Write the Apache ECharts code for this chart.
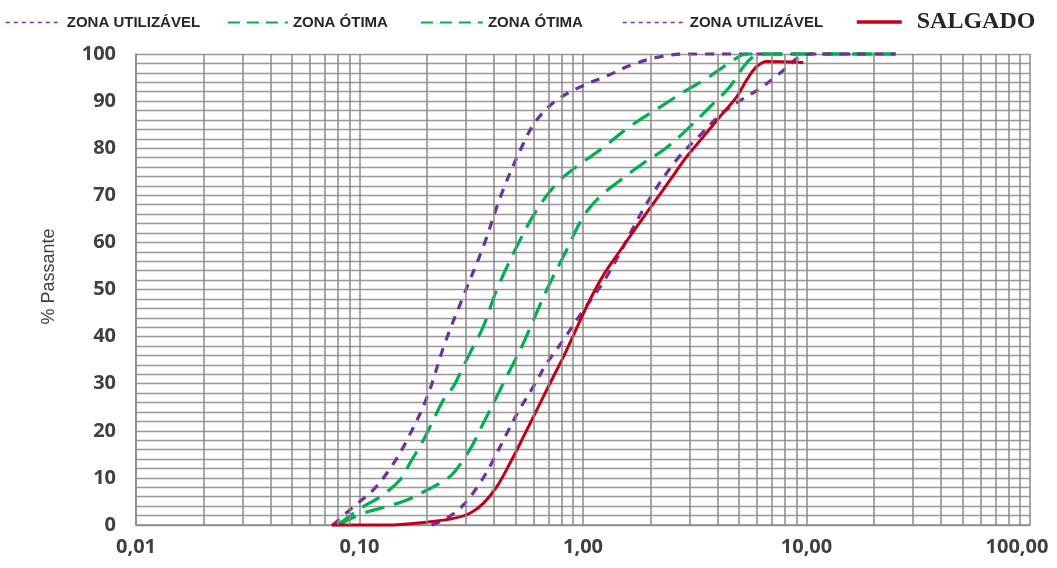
<!DOCTYPE html>
<html>
<head>
<meta charset="utf-8">
<script src="https://cdn.jsdelivr.net/npm/echarts@6/dist/echarts.min.js"></script>
<style>
html,body{margin:0;padding:0;background:#fff;}
#chart{width:1057px;height:568px;}
</style>
</head>
<body>
<div id="chart"></div>
<script>
// ---- data (sieve size in mm, % passing) ----
const utilUpperSizes = [0.076, 0.094, 0.115, 0.139, 0.163, 0.2, 0.241, 0.291, 0.358, 0.433, 0.541, 0.621, 0.763, 0.97, 1.3, 1.65, 2.2, 2.9, 25];
const utilUpperPass  = [0, 3.9, 7.4, 12.4, 18, 27, 38.6, 48.5, 59.1, 70.4, 81, 86, 90.2, 93, 95.5, 97.7, 99.4, 100, 100];

const otimaUpperSizes = [0.08, 0.104, 0.124, 0.152, 0.168, 0.193, 0.214, 0.237, 0.263, 0.291, 0.323, 0.358, 0.411, 0.505, 0.621, 0.763, 0.937, 1.19, 1.62, 2.29, 2.9, 3.57, 4.71, 5.4, 25];
const otimaUpperPass  = [0, 3.9, 6, 9.6, 13.1, 18, 22.3, 26.5, 29.4, 33.6, 37.9, 42.1, 49.9, 59.1, 66.9, 72.5, 76.1, 79.6, 84.6, 89.2, 92.3, 94.8, 98.7, 100, 100];

const otimaLowerSizes = [0.08, 0.104, 0.132, 0.163, 0.2, 0.254, 0.291, 0.323, 0.358, 0.397, 0.44, 0.488, 0.541, 0.6, 0.688, 0.845, 1.003, 1.19, 1.47, 1.86, 2.29, 2.91, 3.7, 4.55, 5.22, 5.78, 6.5, 25];
const otimaLowerPass  = [0, 2.5, 3.9, 5.3, 7.4, 10.3, 13.8, 17.3, 21.6, 25.8, 30.1, 34.3, 38.6, 43.5, 49.9, 58.4, 65.5, 69.7, 73.2, 76.8, 79.6, 83.9, 88.8, 93.1, 97.3, 99.4, 100, 100];

const utilLowerSizes = [0.21, 0.245, 0.291, 0.346, 0.397, 0.448, 0.514, 0.6, 0.688, 0.817, 1.0, 1.276, 1.93, 2.62, 3.3, 4.2, 5.2, 6.2, 7.6, 9.3, 10.5, 25];
const utilLowerPass  = [0, 1.4, 4.2, 8.9, 13.8, 18.7, 24.1, 29.4, 34.3, 39.3, 45.5, 52.7, 68.3, 77.5, 82.5, 87.5, 90.5, 92.7, 95.9, 99.4, 100, 100];

const salgadoSizes = [0.075, 0.132, 0.207, 0.263, 0.312, 0.358, 0.411, 0.471, 0.541, 0.621, 0.712, 0.817, 0.937, 1.074, 1.233, 1.439, 1.738, 2.065, 2.45, 2.91, 3.45, 4.1, 4.87, 5.4, 5.98, 6.64, 9.68];
const salgadoPass  = [0, 0, 0.7, 1.4, 2.5, 4.6, 8.1, 13.1, 18.7, 24.4, 30.1, 35.7, 41.8, 47.8, 53.0, 57.7, 63.3, 68.3, 73.2, 78.2, 82.4, 86.7, 90.9, 94.5, 97.3, 98.4, 98.2];

const seriesNames = ['ZONA UTILIZÁVEL', 'ZONA ÓTIMA', 'ZONA ÓTIMA 2', 'ZONA UTILIZÁVEL 2', 'SALGADO'];
const minorGridValues = [];
[0.01, 0.1, 1, 10].forEach(d => { for (let k = 2; k <= 9; k++) minorGridValues.push(+(d * k).toPrecision(3)); });

// ---- chart ----
const PURPLE = '#7030a0';
const GREEN = '#00b050';
const RED = '#c00018';
const pair = (xs, ys) => xs.map((x, i) => [x, ys[i]]);
const cleanName = n => n.replace(/ 2$/, '');

function dashed(name, xs, ys, color, dash) {
  return {
    name: name, type: 'line', data: pair(xs, ys), smooth: 0.35, symbol: 'none', clip: false,
    lineStyle: { color: color, width: 3.2, type: dash }, itemStyle: { color: color }, z: 3
  };
}

const legendText = { fontFamily: 'Liberation Sans, Arial, sans-serif', fontWeight: 'bold', fontSize: 15, color: '#262626' };
function mkLegend(name, left, w, lineStyle, text, top) {
  return {
    data: [name], left: left, top: top, itemWidth: w, itemHeight: 14, itemGap: 0, padding: 0,
    formatter: cleanName, textStyle: text, lineStyle: lineStyle, selectedMode: false,
    itemStyle: { opacity: 0, borderWidth: 0 }
  };
}

const option = {
  animation: false,
  backgroundColor: '#ffffff',
  grid: { left: 136, right: 27, top: 54, bottom: 43, containLabel: false },
  legend: [
    mkLegend(seriesNames[0], 5, 56, { type: [4, 4], width: 1.5, color: PURPLE }, legendText, 15),
    mkLegend(seriesNames[1], 227, 60, { type: [12, 7], width: 1.8, color: GREEN }, legendText, 15),
    mkLegend(seriesNames[2], 420, 62, { type: [12, 7], width: 1.8, color: GREEN }, legendText, 15),
    mkLegend(seriesNames[3], 622, 62, { type: [4, 4], width: 1.5, color: PURPLE }, legendText, 15),
    mkLegend(seriesNames[4], 855, 45, { type: 'solid', width: 3.5, color: RED },
      { fontFamily: 'Liberation Serif, Times New Roman, serif', fontWeight: 'bold', fontSize: 24, color: '#262626', padding: [0, 0, 0, 10] }, 10)
  ],
  xAxis: {
    type: 'log', logBase: 10, min: 0.01, max: 100,
    axisLine: { show: true, lineStyle: { color: '#8a8a8a', width: 1.5 } },
    axisTick: { show: false },
    splitLine: { show: true, lineStyle: { color: '#8a8a8a', width: 1.5 } },
    axisLabel: {
      margin: 12, color: '#404040', fontFamily: 'Open Sans, sans-serif', fontWeight: 'bold', fontSize: 20,
      formatter: v => {
        const s = Number(v).toFixed(2).replace('.', ',');
        return Math.abs(v - 100) < 1e-6 ? '{r|' + s + '}' : s;
      },
      rich: { r: { fontFamily: 'Open Sans, sans-serif', fontWeight: 'bold', fontSize: 20, color: '#404040', padding: [0, 26, 0, 0] } }
    }
  },
  yAxis: {
    type: 'value', min: 0, max: 100, interval: 10,
    name: '% Passante', nameLocation: 'middle', nameRotate: 90, nameGap: 78,
    nameTextStyle: { fontFamily: 'Liberation Sans, Arial, sans-serif', fontSize: 18, color: '#404040', padding: [0, 0, 0, 26] },
    axisLine: { show: true, lineStyle: { color: '#8a8a8a', width: 1.5 } },
    axisTick: { show: false },
    minorTick: { show: true, splitNumber: 5, length: 0 },
    splitLine: { show: true, lineStyle: { color: '#999999', width: 1.3 } },
    minorSplitLine: { show: true, lineStyle: { color: '#999999', width: 1.3 } },
    axisLabel: { margin: 20, color: '#404040', fontFamily: 'Open Sans, sans-serif', fontWeight: 'bold', fontSize: 20 }
  },
  series: [
    {
      name: 'grid-minor', type: 'line', data: [], silent: true, z: 1,
      markLine: {
        silent: true, symbol: ['none', 'none'], animation: false,
        label: { show: false },
        lineStyle: { color: '#8a8a8a', width: 1.5, type: 'solid' },
        data: minorGridValues.map(v => ({ xAxis: v }))
      }
    },
    dashed(seriesNames[0], utilUpperSizes, utilUpperPass, PURPLE, [9, 8]),
    dashed(seriesNames[1], otimaUpperSizes, otimaUpperPass, GREEN, [20, 10]),
    dashed(seriesNames[2], otimaLowerSizes, otimaLowerPass, GREEN, [20, 10]),
    dashed(seriesNames[3], utilLowerSizes, utilLowerPass, PURPLE, [9, 8]),
    {
      name: seriesNames[4], type: 'line', data: pair(salgadoSizes, salgadoPass), smooth: 0.35, symbol: 'none', clip: false,
      lineStyle: { color: RED, width: 3 }, itemStyle: { color: RED }, z: 4
    }
  ]
};

const chart = echarts.init(document.getElementById('chart'), null, { renderer: 'canvas' });
chart.setOption(option);
</script>
</body>
</html>
